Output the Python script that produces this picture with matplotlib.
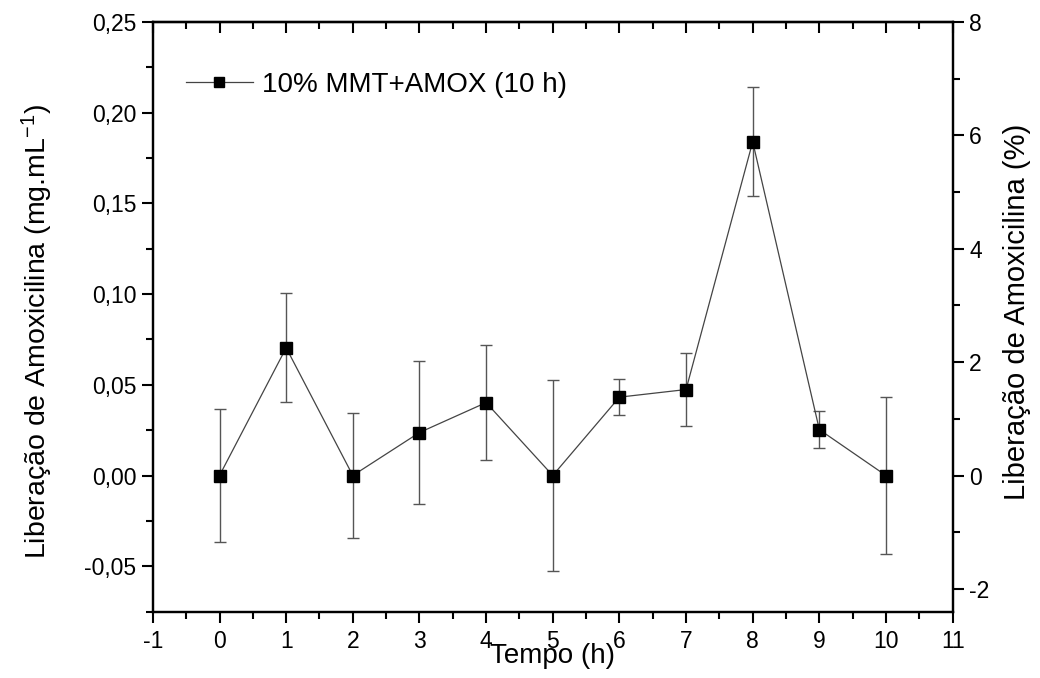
import numpy as np
import matplotlib
matplotlib.use("Agg")
import matplotlib.pyplot as plt
from matplotlib.ticker import MultipleLocator, FuncFormatter

plt.rcParams['font.family'] = ['Liberation Sans', 'DejaVu Sans']
plt.rcParams['mathtext.default'] = 'regular'
plt.rcParams['axes.unicode_minus'] = False

# Data
tempo = [0, 1, 2, 3, 4, 5, 6, 7, 8, 9, 10]
liberacao = [0.0, 0.0704, 0.0, 0.0237, 0.0402, 0.0, 0.0432, 0.0474, 0.184, 0.0253, 0.0]
erro = [0.0364, 0.0300, 0.0342, 0.0392, 0.0317, 0.0528, 0.0100, 0.0200, 0.0300, 0.0101, 0.0431]
serie_label = "10% MMT+AMOX (10 h)"

fig = plt.figure(figsize=(10.4, 6.78), dpi=100)
ax = fig.add_axes([0.147, 0.098, 0.769, 0.8695])

# Error bars and line
ax.errorbar(tempo, liberacao, yerr=erro, fmt='none', ecolor='#555555',
            elinewidth=1.0, capsize=4, capthick=1.0, zorder=2)
ax.plot(tempo, liberacao, color='#444444', lw=0.9, marker='s', ms=8,
        mfc='black', mec='black', label=serie_label, zorder=3)

ax.set_xlim(-1, 11)
ax.set_ylim(-0.075, 0.25)
ax.xaxis.set_major_locator(MultipleLocator(1))
ax.xaxis.set_minor_locator(MultipleLocator(0.5))
ax.yaxis.set_major_locator(MultipleLocator(0.05))
ax.yaxis.set_minor_locator(MultipleLocator(0.025))
ax.yaxis.set_major_formatter(FuncFormatter(lambda v, p: f"{v:.2f}".replace('.', ',').replace('-0,00', '0,00')))

ax.tick_params(axis='both', which='major', direction='out', length=8, width=1.5, labelsize=16.5)
ax.tick_params(axis='both', which='minor', direction='out', length=5, width=1.5)
ax.tick_params(axis='x', pad=5)
ax.tick_params(axis='y', pad=4)

for s in ax.spines.values():
    s.set_linewidth(1.6)

# top axis ticks pointing inward
top = ax.secondary_xaxis('top')
top.xaxis.set_major_locator(MultipleLocator(1))
top.xaxis.set_minor_locator(MultipleLocator(0.5))
top.tick_params(axis='x', which='major', direction='in', length=8, width=1.5, labeltop=False)
top.tick_params(axis='x', which='minor', direction='in', length=5, width=1.5)
top.spines['top'].set_linewidth(1.6)

# right axis in percent
ax2 = ax.twinx()
ax2.set_ylim(-0.075 * 32, 0.25 * 32)
ax2.yaxis.set_major_locator(MultipleLocator(2))
ax2.yaxis.set_minor_locator(MultipleLocator(1))
ax2.tick_params(axis='y', which='major', direction='out', length=8, width=1.5, labelsize=16.5, pad=4)
ax2.tick_params(axis='y', which='minor', direction='out', length=5, width=1.5)
for s in ax2.spines.values():
    s.set_linewidth(1.6)

ax.set_xlabel("Tempo (h)", fontsize=20, labelpad=-7)
ax.set_ylabel("Liberação de Amoxicilina (mg.mL$^{-1}$)", fontsize=20.5, labelpad=21)
ax2.set_ylabel("Liberação de Amoxicilina (%)", fontsize=21, labelpad=10)
ax.yaxis.label.set_y(0.475)
ax2.yaxis.label.set_y(0.508)

ax.legend(loc='upper left', bbox_to_anchor=(0.01, 0.958), frameon=False,
          fontsize=20, handlelength=2.4, handletextpad=0.35, markerscale=0.85)

fig.savefig("out.png", dpi=100)
